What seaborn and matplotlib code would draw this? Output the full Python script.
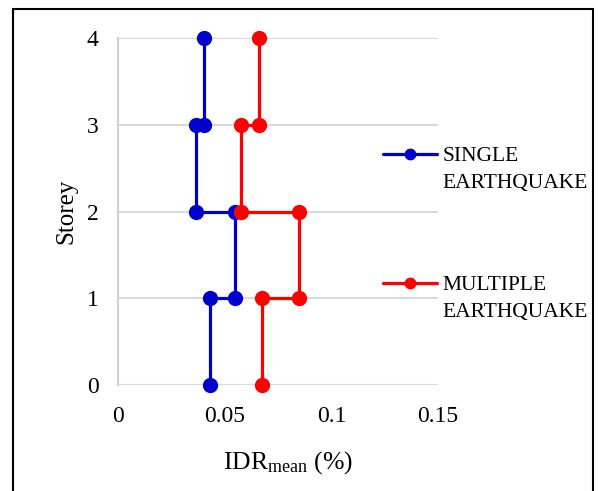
import matplotlib
matplotlib.use("Agg")
import matplotlib.pyplot as plt
import seaborn as sns
import pandas as pd
from matplotlib.patches import Rectangle
from matplotlib.lines import Line2D

storey = [0, 1, 1, 2, 2, 3, 3, 4]
single_idr = [0.043, 0.043, 0.0547, 0.0547, 0.0364, 0.0364, 0.0405, 0.0405]
multiple_idr = [0.0677, 0.0677, 0.0847, 0.0847, 0.0578, 0.0578, 0.0661, 0.0661]
series_names = ["SINGLE EARTHQUAKE", "MULTIPLE EARTHQUAKE"]
x_ticks = [0, 0.05, 0.1, 0.15]
x_tick_labels = ["0", "0.05", "0.1", "0.15"]
y_ticks = [0, 1, 2, 3, 4]

df = pd.concat([
    pd.DataFrame({"IDR": single_idr, "Storey": storey, "Case": series_names[0]}),
    pd.DataFrame({"IDR": multiple_idr, "Storey": storey, "Case": series_names[1]}),
], ignore_index=True)

sns.set_theme(style="white")
plt.rcParams["font.family"] = ["Liberation Serif", "DejaVu Serif"]
plt.rcParams["mathtext.fontset"] = "custom"
plt.rcParams["mathtext.rm"] = "Liberation Serif"
plt.rcParams["mathtext.it"] = "Liberation Serif:italic"
plt.rcParams["text.color"] = "black"
plt.rcParams["axes.labelcolor"] = "black"
plt.rcParams["xtick.color"] = "black"
plt.rcParams["ytick.color"] = "black"

fig = plt.figure(figsize=(5.98, 4.91), dpi=100)
ax = fig.add_axes([118/598, 1-385/491, 320/598, 347/491])

palette = {series_names[0]: "#0000CC", series_names[1]: "#FF0000"}
sns.lineplot(data=df, x="IDR", y="Storey", hue="Case", palette=palette,
             sort=False, estimator=None, marker="o", markersize=11,
             markeredgewidth=0, linewidth=2.3, ax=ax, legend=False,
             zorder=3, clip_on=False)

ax.set_xlim(0, 0.15)
ax.set_ylim(0, 4)
ax.set_xticks(x_ticks)
ax.set_xticklabels(x_tick_labels)
ax.set_yticks(y_ticks)
for s in ["top", "right", "bottom"]:
    ax.spines[s].set_visible(False)
ax.spines["left"].set_color("#d0d0d0")
ax.spines["left"].set_linewidth(1.5)
ax.grid(axis="y", color="#d9d9d9", linewidth=1.5)
ax.grid(axis="x", visible=False)
ax.set_axisbelow(True)
ax.tick_params(axis="both", length=0, labelsize=17)
ax.tick_params(axis="y", pad=14)
ax.tick_params(axis="x", pad=15)
ax.set_ylabel("Storey", fontsize=18, labelpad=7)
ax.set_xlabel(r"IDR$_{\mathrm{mean}}$ (%)", fontsize=18.5)
ax.xaxis.set_label_coords((288 - 118) / 320, -64 / 347)

def make_legend(name, color, top_px):
    h = Line2D([], [], color=color, marker="o", markersize=7.5, linewidth=2.3)
    blank = Line2D([], [], color="none")
    words = name.split(" ")
    return fig.legend([h, blank], words, loc="upper left",
                      bbox_to_anchor=(383/598, 1-top_px/491),
                      frameon=False, fontsize=15.5, handlelength=2.5,
                      handletextpad=0.25, labelspacing=0.31,
                      borderpad=0, borderaxespad=0)

make_legend(series_names[0], palette[series_names[0]], 146)
make_legend(series_names[1], palette[series_names[1]], 275)

fig.patches.append(Rectangle((13/598, -0.1), 580/598, 1.1 - 9/491, transform=fig.transFigure,
                             fill=False, edgecolor="black", linewidth=1.5, clip_on=False))

fig.savefig("out.png", dpi=100)
